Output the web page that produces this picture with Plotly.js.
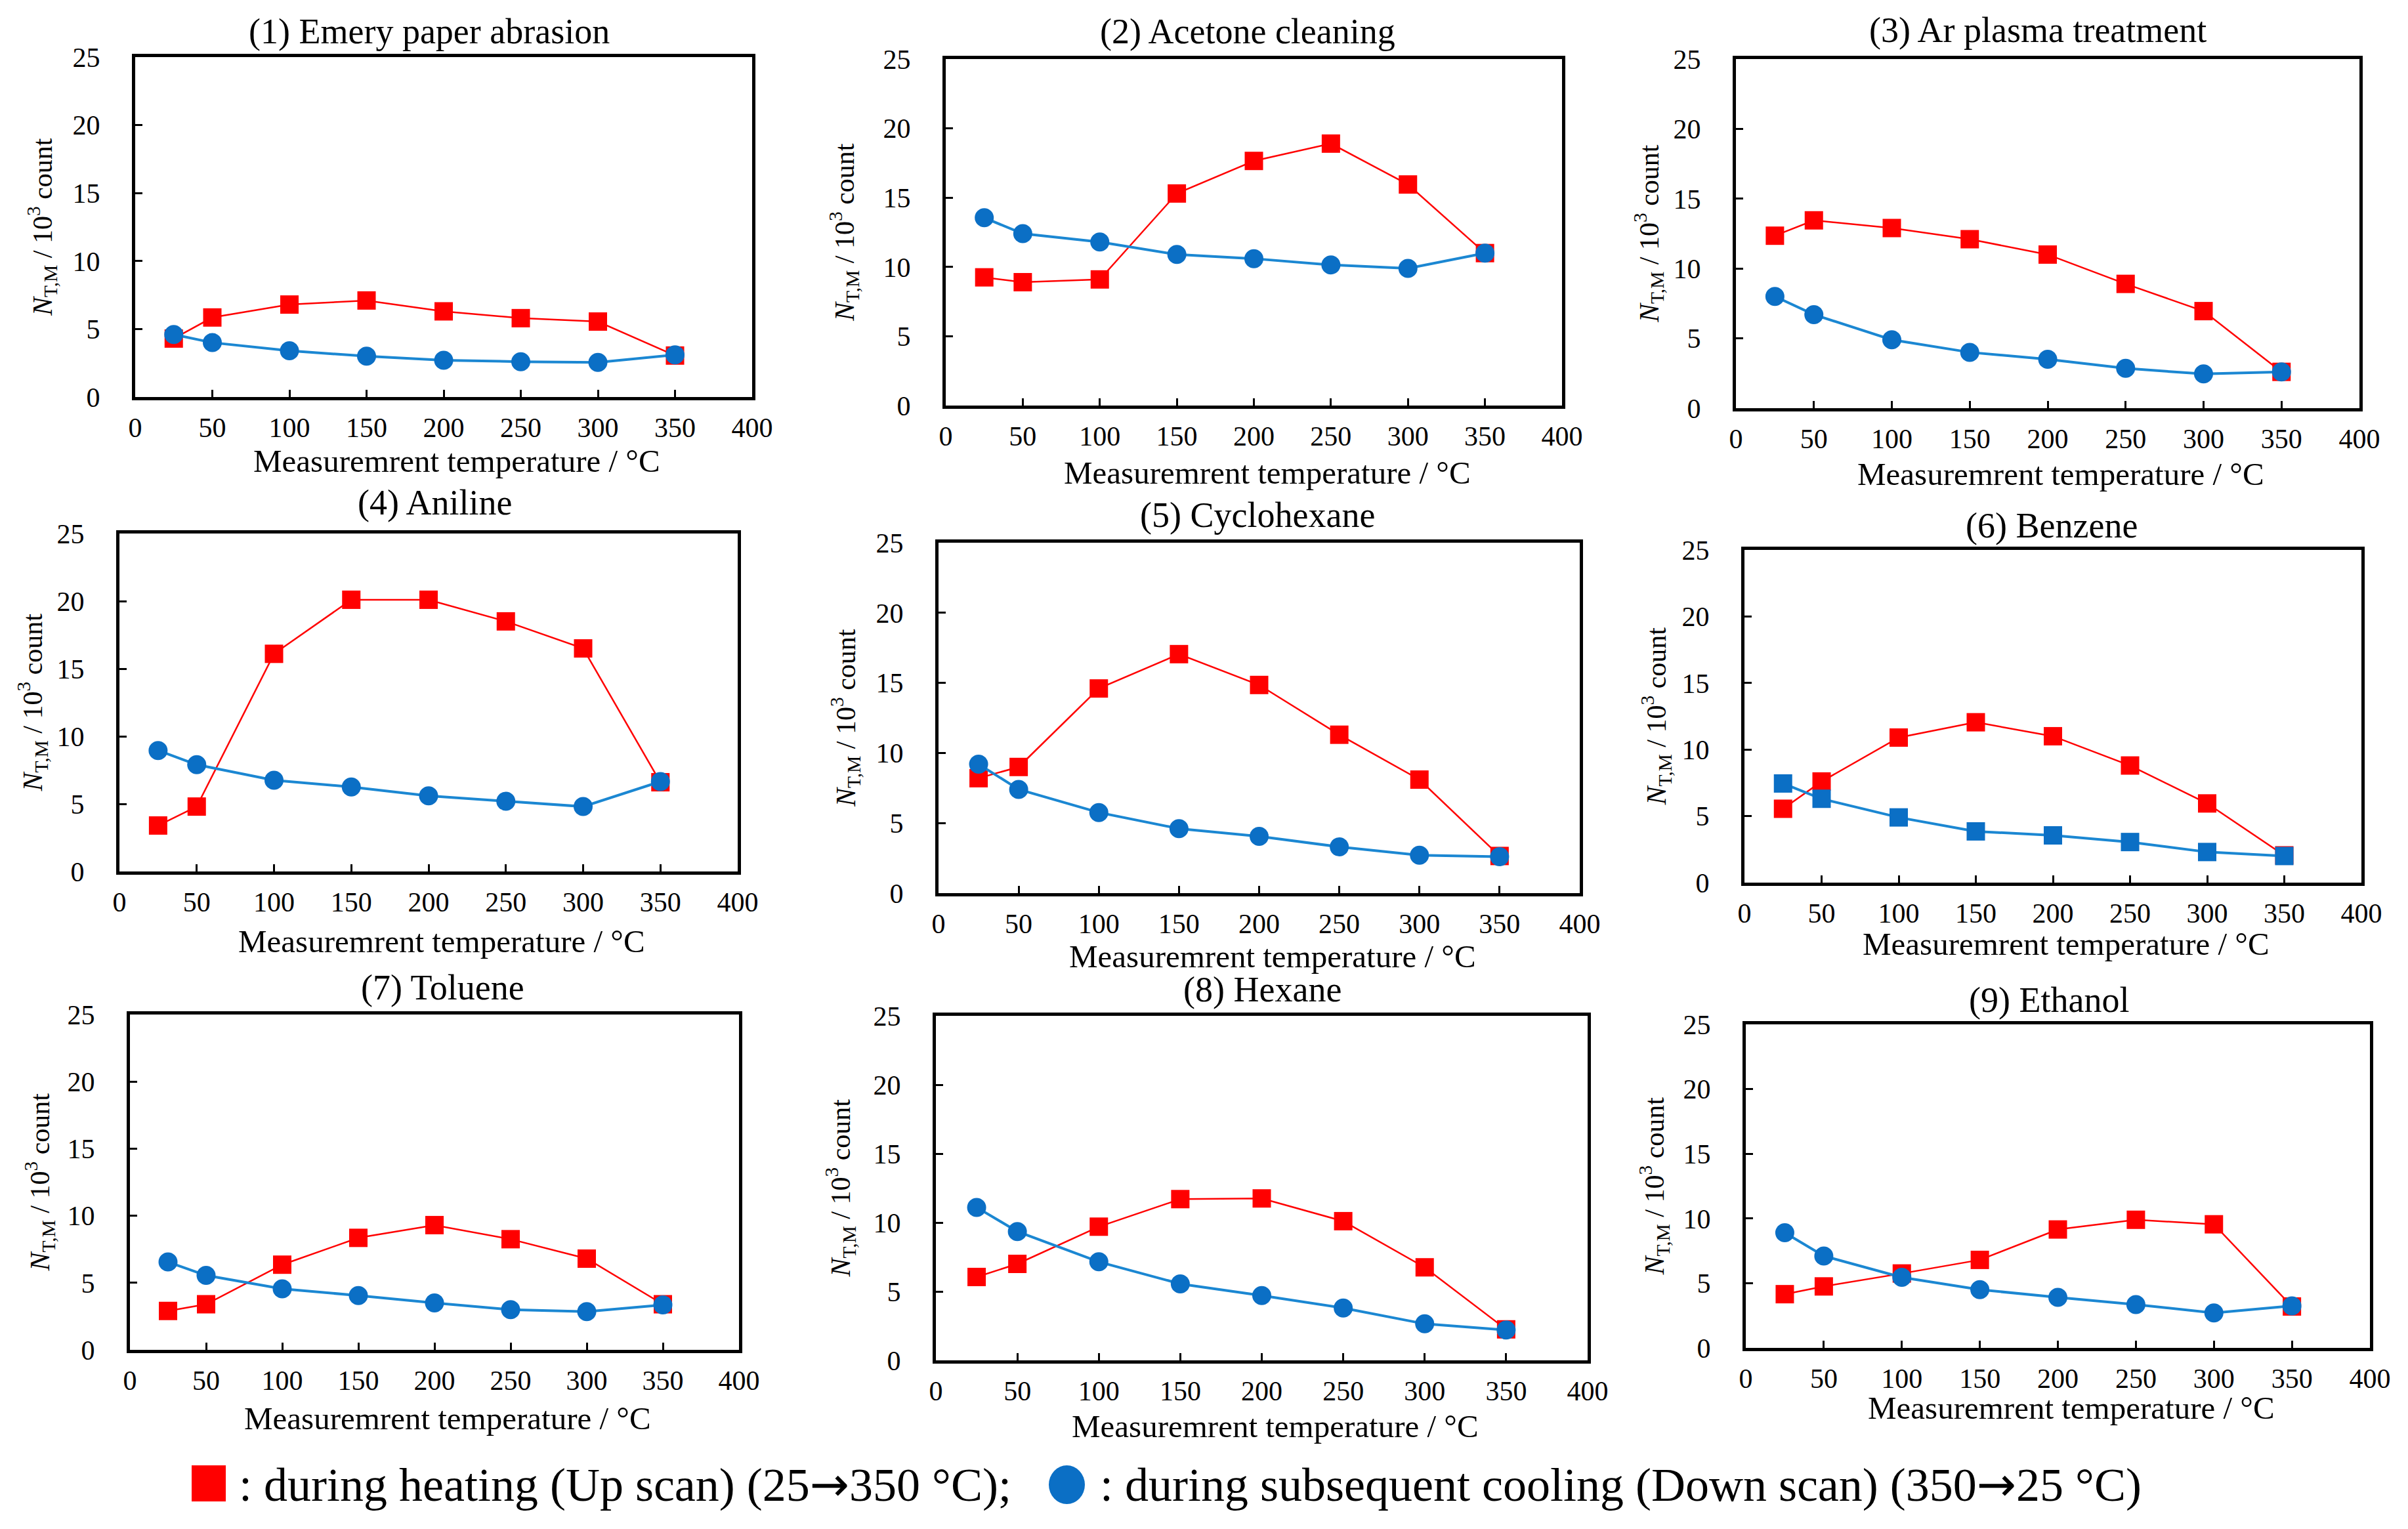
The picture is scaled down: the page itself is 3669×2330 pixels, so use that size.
<!DOCTYPE html>
<html>
<head>
<meta charset="utf-8">
<script src="https://cdn.plot.ly/plotly-3.0.1.min.js"></script>
<style>
  html, body { margin: 0; padding: 0; background: #fff; }
  #mainPlot { width: 3669px; height: 2330px; }
</style>
</head>
<body>
<div id="mainPlot"></div>
<script>
MAINPLOT = document.getElementById('mainPlot');

// temperatures (°C)
let temps = [25, 50, 100, 150, 200, 250, 300, 350];

let titles = [
    '(1) Emery paper abrasion', '(2) Acetone cleaning', '(3) Ar plasma treatment',
    '(4) Aniline', '(5) Cyclohexane', '(6) Benzene',
    '(7) Toluene', '(8) Hexane', '(9) Ethanol'
];

// N_T,M / 10^3 count, during heating (up scan)
let upScan = [
    [4.3, 5.85, 6.8, 7.1, 6.3, 5.8, 5.55, 3.05],
    [9.25, 8.9, 9.1, 15.3, 17.65, 18.9, 15.95, 11.0],
    [12.35, 13.45, 12.9, 12.1, 11.0, 8.9, 6.95, 2.6],
    [3.4, 4.8, 16.1, 20.1, 20.1, 18.5, 16.5, 6.6],
    [8.2, 9.0, 14.6, 17.05, 14.85, 11.3, 8.1, 2.65],
    [5.55, 7.6, 10.9, 12.05, 11.0, 8.8, 5.95, 2.05],
    [2.9, 3.4, 6.35, 8.35, 9.3, 8.25, 6.8, 3.4],
    [6.05, 7.0, 9.7, 11.7, 11.75, 10.1, 6.75, 2.25],
    [4.15, 4.75, 5.75, 6.8, 9.15, 9.9, 9.55, 3.2]
];

// during subsequent cooling (down scan)
let downScan = [
    [4.6, 4.0, 3.4, 3.0, 2.7, 2.6, 2.55, 3.1],
    [13.55, 12.4, 11.8, 10.9, 10.6, 10.15, 9.9, 11.0],
    [8.0, 6.7, 4.9, 4.0, 3.5, 2.85, 2.45, 2.6],
    [8.95, 7.9, 6.75, 6.25, 5.6, 5.2, 4.8, 6.65],
    [9.2, 7.4, 5.75, 4.6, 4.05, 3.3, 2.7, 2.6],
    [7.45, 6.3, 4.9, 3.85, 3.55, 3.05, 2.3, 2.0],
    [6.55, 5.55, 4.55, 4.05, 3.5, 3.0, 2.85, 3.35],
    [11.1, 9.35, 7.15, 5.55, 4.7, 3.8, 2.65, 2.2],
    [8.9, 7.1, 5.45, 4.5, 3.9, 3.35, 2.7, 3.25]
];

let downSymbols = ['circle', 'circle', 'circle', 'circle', 'circle', 'square', 'circle', 'circle', 'circle'];

let xTickVals = [0, 50, 100, 150, 200, 250, 300, 350, 400];
let yTickVals = [0, 5, 10, 15, 20, 25];

const ARROW = '<span style="font-family:\'DejaVu Sans\'">\u2192</span>';
let legendUp = ': during heating (Up scan) (25' + ARROW + '350 \u00b0C);';
let legendDown = ': during subsequent cooling (Down scan) (350' + ARROW + '25 \u00b0C)';

// pixel boxes of the panels: left, right, top, bottom, title x, title y, x-title y, y-title x
const W = 3669, H = 2330;
let boxes = [
    [206, 1146, 87, 605, 654, 48, 703, 64],
    [1441, 2380, 90, 618, 1901, 48, 720, 1286],
    [2645, 3595, 90, 622, 3105, 46, 722, 2512],
    [182, 1124, 813, 1328, 662, 766, 1434, 49],
    [1430, 2407, 827, 1361, 1916, 785, 1457, 1288],
    [2658, 3598, 838, 1345, 3126, 801, 1438, 2524],
    [198, 1126, 1546, 2057, 674, 1505, 2161, 60],
    [1426, 2419, 1548, 2073, 1923, 1508, 2173, 1281],
    [2660, 3611, 1561, 2054, 3122, 1524, 2145, 2520]
];

const FONT = '"Liberation Serif", "Times New Roman", serif';
const RED = '#ff0000';
const BLUE = '#0b6fc5';
const BLUE_LINE = '#1b87d2';

var data = [];
var layout = {
    width: W,
    height: H,
    margin: { l: 0, r: 0, t: 0, b: 0 },
    paper_bgcolor: '#ffffff',
    plot_bgcolor: '#ffffff',
    showlegend: false,
    font: { family: FONT, color: '#000000' },
    annotations: [],
    shapes: []
};

function px(x) { return x / W; }
function py(y) { return 1 - y / H; }

for (let i = 0; i < 9; i++) {
    let n = i + 1;
    let xa = 'x' + (n === 1 ? '' : n);
    let ya = 'y' + (n === 1 ? '' : n);
    let b = boxes[i];

    data.push({
        x: temps,
        y: upScan[i],
        xaxis: xa,
        yaxis: ya,
        type: 'scatter',
        mode: 'lines+markers',
        name: 'Up scan',
        line: { color: RED, width: 2.5 },
        marker: { symbol: 'square', size: 28, color: RED },
        cliponaxis: false
    });
    data.push({
        x: temps,
        y: downScan[i],
        xaxis: xa,
        yaxis: ya,
        type: 'scatter',
        mode: 'lines+markers',
        name: 'Down scan',
        line: { color: BLUE_LINE, width: 4 },
        marker: { symbol: downSymbols[i], size: downSymbols[i] === 'square' ? 28 : 29, color: BLUE },
        cliponaxis: false
    });

    let axBase = {
        showline: true,
        mirror: true,
        linecolor: '#000000',
        linewidth: 5,
        showgrid: false,
        zeroline: false,
        ticks: 'inside',
        ticklen: 11,
        tickwidth: 3,
        tickcolor: '#000000',
        tickfont: { family: FONT, size: 42, color: '#000000' },
        fixedrange: true
    };

    layout['xaxis' + (n === 1 ? '' : n)] = Object.assign({}, axBase, {
        domain: [px(b[0]), px(b[1])],
        anchor: ya,
        range: [0, 400],
        tickmode: 'array',
        tickvals: xTickVals,
        ticklabelstandoff: 6
    });
    layout['yaxis' + (n === 1 ? '' : n)] = Object.assign({}, axBase, {
        domain: [py(b[3]), py(b[2])],
        anchor: xa,
        range: [0, 25],
        tickmode: 'array',
        tickvals: yTickVals,
        ticklabelstandoff: 40
    });

    // panel title
    layout.annotations.push({
        text: titles[i],
        xref: 'paper', yref: 'paper',
        x: px(b[4]), y: py(b[5]),
        xanchor: 'center', yanchor: 'middle',
        showarrow: false,
        font: { family: FONT, size: 54, color: '#000000' }
    });
    // x-axis title
    layout.annotations.push({
        text: 'Measuremrent temperature / \u00b0C',
        xref: 'paper', yref: 'paper',
        x: px((b[0] + b[1]) / 2 + 20), y: py(b[6]),
        xanchor: 'center', yanchor: 'middle',
        showarrow: false,
        font: { family: FONT, size: 49, color: '#000000' }
    });
    // y-axis title
    layout.annotations.push({
        text: '<i>N</i><sub>T,M</sub> / 10<sup>3</sup> count',
        xref: 'paper', yref: 'paper',
        x: px(b[7]), y: py((b[2] + b[3]) / 2),
        xanchor: 'center', yanchor: 'middle',
        textangle: -90,
        showarrow: false,
        font: { family: FONT, size: 42, color: '#000000' }
    });
}

// legend at the bottom
layout.shapes.push({
    type: 'rect', xref: 'paper', yref: 'paper',
    x0: px(292), x1: px(344), y0: py(2288), y1: py(2233),
    fillcolor: RED, line: { width: 0 }
});
layout.shapes.push({
    type: 'circle', xref: 'paper', yref: 'paper',
    x0: px(1598), x1: px(1653), y0: py(2292), y1: py(2233),
    fillcolor: BLUE, line: { width: 0 }
});
layout.annotations.push({
    text: legendUp,
    xref: 'paper', yref: 'paper',
    x: px(362), y: py(2262),
    xanchor: 'left', yanchor: 'middle',
    showarrow: false,
    font: { family: FONT, size: 72, color: '#000000' }
});
layout.annotations.push({
    text: legendDown,
    xref: 'paper', yref: 'paper',
    x: px(1674), y: py(2262),
    xanchor: 'left', yanchor: 'middle',
    showarrow: false,
    font: { family: FONT, size: 72, color: '#000000' }
});

Plotly.newPlot(MAINPLOT, data, layout, { staticPlot: true });
</script>
</body>
</html>
